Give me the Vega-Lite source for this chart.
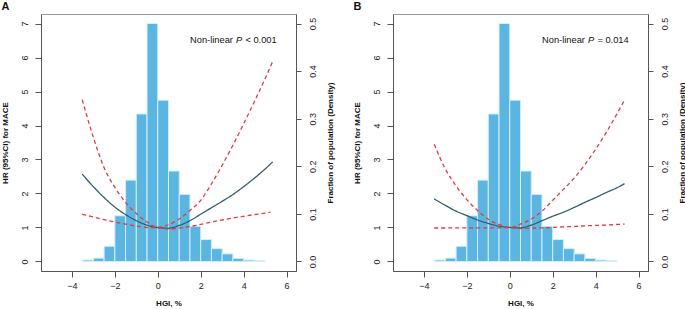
{
  "$schema": "https://vega.github.io/schema/vega-lite/v6.json",
  "padding": {"left": 0, "top": 0, "right": 0, "bottom": 0},
  "spacing": 17,
  "config": {
    "font": "Liberation Sans",
    "view": {"stroke": "#9a9a9a", "strokeWidth": 1},
    "axis": {"grid": false, "domainColor": "#555555", "tickColor": "#555555", "labelColor": "#222222", "titleColor": "#111111", "labelFontSize": 9, "titleFontSize": 8, "titleFontWeight": "bold", "tickSize": 6, "labelPadding": 4, "labelOverlap": false, "labelFont": "Liberation Sans", "titleFont": "Liberation Sans"}
  },
  "datasets": {
    "hist": [
      {"b0": -3.5, "b1": -3.0, "d": 0.003},
      {"b0": -3.0, "b1": -2.5, "d": 0.007},
      {"b0": -2.5, "b1": -2.0, "d": 0.032},
      {"b0": -2.0, "b1": -1.5, "d": 0.096},
      {"b0": -1.5, "b1": -1.0, "d": 0.171},
      {"b0": -1.0, "b1": -0.5, "d": 0.31},
      {"b0": -0.5, "b1": 0.0, "d": 0.5},
      {"b0": 0.0, "b1": 0.5, "d": 0.339},
      {"b0": 0.5, "b1": 1.0, "d": 0.19},
      {"b0": 1.0, "b1": 1.5, "d": 0.141},
      {"b0": 1.5, "b1": 2.0, "d": 0.074},
      {"b0": 2.0, "b1": 2.5, "d": 0.046},
      {"b0": 2.5, "b1": 3.0, "d": 0.027},
      {"b0": 3.0, "b1": 3.5, "d": 0.016},
      {"b0": 3.5, "b1": 4.0, "d": 0.0064},
      {"b0": 4.0, "b1": 4.5, "d": 0.003},
      {"b0": 4.5, "b1": 5.0, "d": 0.0014}
    ],
    "curveA": [
      {"x": -3.52, "v": 2.57, "s": "HR"}, {"x": -3.0, "v": 2.2, "s": "HR"}, {"x": -2.5, "v": 1.88, "s": "HR"}, {"x": -2.0, "v": 1.6, "s": "HR"},
      {"x": -1.5, "v": 1.38, "s": "HR"}, {"x": -1.0, "v": 1.2, "s": "HR"}, {"x": -0.5, "v": 1.07, "s": "HR"}, {"x": 0.0, "v": 1.0, "s": "HR"},
      {"x": 0.5, "v": 0.98, "s": "HR"}, {"x": 1.0, "v": 1.06, "s": "HR"}, {"x": 1.5, "v": 1.2, "s": "HR"}, {"x": 2.0, "v": 1.39, "s": "HR"},
      {"x": 2.5, "v": 1.58, "s": "HR"}, {"x": 3.0, "v": 1.77, "s": "HR"}, {"x": 3.5, "v": 1.97, "s": "HR"}, {"x": 4.0, "v": 2.2, "s": "HR"},
      {"x": 4.5, "v": 2.45, "s": "HR"}, {"x": 5.0, "v": 2.72, "s": "HR"}, {"x": 5.35, "v": 2.93, "s": "HR"},
      {"x": -3.52, "v": 1.39, "s": "lo"}, {"x": -3.0, "v": 1.31, "s": "lo"}, {"x": -2.5, "v": 1.23, "s": "lo"}, {"x": -2.0, "v": 1.16, "s": "lo"},
      {"x": -1.5, "v": 1.1, "s": "lo"}, {"x": -1.0, "v": 1.04, "s": "lo"}, {"x": -0.5, "v": 1.0, "s": "lo"}, {"x": 0.0, "v": 0.99, "s": "lo"},
      {"x": 0.5, "v": 0.96, "s": "lo"}, {"x": 1.0, "v": 0.98, "s": "lo"}, {"x": 1.5, "v": 1.03, "s": "lo"}, {"x": 2.0, "v": 1.09, "s": "lo"},
      {"x": 2.5, "v": 1.16, "s": "lo"}, {"x": 3.0, "v": 1.22, "s": "lo"}, {"x": 3.5, "v": 1.28, "s": "lo"}, {"x": 4.0, "v": 1.33, "s": "lo"},
      {"x": 4.5, "v": 1.38, "s": "lo"}, {"x": 5.0, "v": 1.42, "s": "lo"}, {"x": 5.25, "v": 1.45, "s": "lo"},
      {"x": -3.52, "v": 4.76, "s": "hi"}, {"x": -3.0, "v": 3.65, "s": "hi"}, {"x": -2.5, "v": 2.76, "s": "hi"}, {"x": -2.0, "v": 2.18, "s": "hi"},
      {"x": -1.5, "v": 1.74, "s": "hi"}, {"x": -1.0, "v": 1.41, "s": "hi"}, {"x": -0.5, "v": 1.16, "s": "hi"}, {"x": 0.0, "v": 1.0, "s": "hi"},
      {"x": 0.5, "v": 1.08, "s": "hi"}, {"x": 1.0, "v": 1.25, "s": "hi"}, {"x": 1.5, "v": 1.5, "s": "hi"}, {"x": 2.0, "v": 1.8, "s": "hi"},
      {"x": 2.5, "v": 2.28, "s": "hi"}, {"x": 3.0, "v": 2.83, "s": "hi"}, {"x": 3.5, "v": 3.42, "s": "hi"}, {"x": 4.0, "v": 4.05, "s": "hi"},
      {"x": 4.5, "v": 4.7, "s": "hi"}, {"x": 5.0, "v": 5.38, "s": "hi"}, {"x": 5.33, "v": 5.85, "s": "hi"}
    ],
    "curveB": [
      {"x": -3.52, "v": 1.84, "s": "HR"}, {"x": -3.0, "v": 1.65, "s": "HR"}, {"x": -2.5, "v": 1.48, "s": "HR"}, {"x": -2.0, "v": 1.35, "s": "HR"},
      {"x": -1.5, "v": 1.22, "s": "HR"}, {"x": -1.0, "v": 1.12, "s": "HR"}, {"x": -0.5, "v": 1.04, "s": "HR"}, {"x": 0.0, "v": 1.0, "s": "HR"},
      {"x": 0.5, "v": 0.99, "s": "HR"}, {"x": 1.0, "v": 1.07, "s": "HR"}, {"x": 1.5, "v": 1.2, "s": "HR"}, {"x": 2.0, "v": 1.33, "s": "HR"},
      {"x": 2.5, "v": 1.45, "s": "HR"}, {"x": 3.0, "v": 1.59, "s": "HR"}, {"x": 3.5, "v": 1.74, "s": "HR"}, {"x": 4.0, "v": 1.88, "s": "HR"},
      {"x": 4.5, "v": 2.03, "s": "HR"}, {"x": 5.0, "v": 2.17, "s": "HR"}, {"x": 5.35, "v": 2.29, "s": "HR"},
      {"x": -3.52, "v": 0.985, "s": "lo"}, {"x": -3.0, "v": 0.985, "s": "lo"}, {"x": -2.5, "v": 0.99, "s": "lo"}, {"x": -2.0, "v": 0.99, "s": "lo"},
      {"x": -1.5, "v": 0.99, "s": "lo"}, {"x": -1.0, "v": 0.99, "s": "lo"}, {"x": -0.5, "v": 0.99, "s": "lo"}, {"x": 0.0, "v": 1.0, "s": "lo"},
      {"x": 0.5, "v": 0.97, "s": "lo"}, {"x": 1.0, "v": 0.98, "s": "lo"}, {"x": 1.5, "v": 0.99, "s": "lo"}, {"x": 2.0, "v": 1.0, "s": "lo"},
      {"x": 2.5, "v": 1.02, "s": "lo"}, {"x": 3.0, "v": 1.03, "s": "lo"}, {"x": 3.5, "v": 1.05, "s": "lo"}, {"x": 4.0, "v": 1.06, "s": "lo"},
      {"x": 4.5, "v": 1.07, "s": "lo"}, {"x": 5.0, "v": 1.09, "s": "lo"}, {"x": 5.35, "v": 1.1, "s": "lo"},
      {"x": -3.52, "v": 3.45, "s": "hi"}, {"x": -3.0, "v": 2.72, "s": "hi"}, {"x": -2.5, "v": 2.22, "s": "hi"}, {"x": -2.0, "v": 1.82, "s": "hi"},
      {"x": -1.5, "v": 1.5, "s": "hi"}, {"x": -1.0, "v": 1.24, "s": "hi"}, {"x": -0.5, "v": 1.09, "s": "hi"}, {"x": 0.0, "v": 1.0, "s": "hi"},
      {"x": 0.5, "v": 1.1, "s": "hi"}, {"x": 1.0, "v": 1.25, "s": "hi"}, {"x": 1.5, "v": 1.48, "s": "hi"}, {"x": 2.0, "v": 1.8, "s": "hi"},
      {"x": 2.5, "v": 2.12, "s": "hi"}, {"x": 3.0, "v": 2.45, "s": "hi"}, {"x": 3.5, "v": 2.85, "s": "hi"}, {"x": 4.0, "v": 3.3, "s": "hi"},
      {"x": 4.5, "v": 3.8, "s": "hi"}, {"x": 5.0, "v": 4.35, "s": "hi"}, {"x": 5.35, "v": 4.75, "s": "hi"}
    ]
  },
  "hconcat": [
    {
      "width": 255, "height": 257,
      "title": {"text": "A", "anchor": "start", "frame": "bounds", "fontSize": 11, "fontWeight": "bold", "offset": 2, "color": "#111111"},
      "resolve": {"scale": {"y": "independent"}},
      "layer": [
        {
          "data": {"name": "hist"},
          "mark": {"type": "bar", "color": "#5BB5E1", "stroke": "#D4EDF8", "strokeWidth": 1},
          "encoding": {
            "x": {"field": "b0", "type": "quantitative", "scale": {"domain": [-5.44, 6.44], "nice": false, "zero": false}, "axis": {"values": [-4, -2, 0, 2, 4, 6], "title": "HGI, %", "titlePadding": 9}},
            "x2": {"field": "b1"},
            "y": {"field": "d", "type": "quantitative", "scale": {"domain": [-0.02, 0.52], "nice": false, "zero": false}, "axis": {"orient": "right", "values": [0, 0.1, 0.2, 0.3, 0.4, 0.5], "format": ".1f", "labelAngle": 270, "labelOverlap": false, "titleAngle": 270, "titleBaseline": "top", "title": "Fraction of population (Density)", "tickSize": 5, "labelPadding": 7, "titlePadding": 9}},
            "y2": {"datum": 0}
          }
        },
        {
          "data": {"name": "curveA"},
          "mark": {"type": "line", "strokeWidth": 1.3, "interpolate": "monotone"},
          "encoding": {
            "x": {"field": "x", "type": "quantitative"},
            "y": {"field": "v", "type": "quantitative", "scale": {"domain": [-0.28, 7.28], "nice": false, "zero": false}, "axis": {"orient": "left", "values": [0, 1, 2, 3, 4, 5, 6, 7], "labelOverlap": false, "labelAngle": 270, "labelPadding": 5.5, "title": "HR (95%CI) for MACE", "titlePadding": 11}},
            "color": {"field": "s", "type": "nominal", "scale": {"domain": ["HR", "lo", "hi"], "range": ["#2F5E69", "#E23A3F", "#E23A3F"]}, "legend": null},
            "strokeDash": {"field": "s", "type": "nominal", "scale": {"domain": ["HR", "lo", "hi"], "range": [[1, 0], [4, 3], [4, 3]]}, "legend": null}
          }
        },
        {
          "data": {"values": [{"x": 3.5, "y": 6.52, "t": "Non-linear"}]},
          "mark": {"type": "text", "align": "right", "baseline": "middle", "fontSize": 9.3, "color": "#111111"},
          "encoding": {"x": {"field": "x", "type": "quantitative"}, "y": {"field": "y", "type": "quantitative", "scale": {"domain": [-0.28, 7.28], "nice": false, "zero": false}, "axis": null}, "text": {"field": "t"}}
        },
        {
          "data": {"values": [{"x": 3.5, "y": 6.52, "t": "P"}]},
          "mark": {"type": "text", "align": "left", "baseline": "middle", "fontSize": 9.3, "fontStyle": "italic", "dx": 3, "color": "#111111"},
          "encoding": {"x": {"field": "x", "type": "quantitative"}, "y": {"field": "y", "type": "quantitative", "scale": {"domain": [-0.28, 7.28], "nice": false, "zero": false}, "axis": null}, "text": {"field": "t"}}
        },
        {
          "data": {"values": [{"x": 3.5, "y": 6.52, "t": "< 0.001"}]},
          "mark": {"type": "text", "align": "left", "baseline": "middle", "fontSize": 9.3, "dx": 12.5, "color": "#111111"},
          "encoding": {"x": {"field": "x", "type": "quantitative"}, "y": {"field": "y", "type": "quantitative", "scale": {"domain": [-0.28, 7.28], "nice": false, "zero": false}, "axis": null}, "text": {"field": "t"}}
        }
      ]
    },
    {
      "width": 255, "height": 257,
      "title": {"text": "B", "anchor": "start", "frame": "bounds", "fontSize": 11, "fontWeight": "bold", "offset": 2, "color": "#111111"},
      "resolve": {"scale": {"y": "independent"}},
      "layer": [
        {
          "data": {"name": "hist"},
          "mark": {"type": "bar", "color": "#5BB5E1", "stroke": "#D4EDF8", "strokeWidth": 1},
          "encoding": {
            "x": {"field": "b0", "type": "quantitative", "scale": {"domain": [-5.44, 6.44], "nice": false, "zero": false}, "axis": {"values": [-4, -2, 0, 2, 4, 6], "title": "HGI, %", "titlePadding": 9}},
            "x2": {"field": "b1"},
            "y": {"field": "d", "type": "quantitative", "scale": {"domain": [-0.02, 0.52], "nice": false, "zero": false}, "axis": {"orient": "right", "values": [0, 0.1, 0.2, 0.3, 0.4, 0.5], "format": ".1f", "labelAngle": 270, "labelOverlap": false, "titleAngle": 270, "titleBaseline": "top", "title": "Fraction of population (Density)", "tickSize": 5, "labelPadding": 7, "titlePadding": 9}},
            "y2": {"datum": 0}
          }
        },
        {
          "data": {"name": "curveB"},
          "mark": {"type": "line", "strokeWidth": 1.3, "interpolate": "monotone"},
          "encoding": {
            "x": {"field": "x", "type": "quantitative"},
            "y": {"field": "v", "type": "quantitative", "scale": {"domain": [-0.28, 7.28], "nice": false, "zero": false}, "axis": {"orient": "left", "values": [0, 1, 2, 3, 4, 5, 6, 7], "labelOverlap": false, "labelAngle": 270, "labelPadding": 5.5, "title": "HR (95%CI) for MACE", "titlePadding": 11}},
            "color": {"field": "s", "type": "nominal", "scale": {"domain": ["HR", "lo", "hi"], "range": ["#2F5E69", "#E23A3F", "#E23A3F"]}, "legend": null},
            "strokeDash": {"field": "s", "type": "nominal", "scale": {"domain": ["HR", "lo", "hi"], "range": [[1, 0], [4, 3], [4, 3]]}, "legend": null}
          }
        },
        {
          "data": {"values": [{"x": 3.5, "y": 6.52, "t": "Non-linear"}]},
          "mark": {"type": "text", "align": "right", "baseline": "middle", "fontSize": 9.3, "color": "#111111"},
          "encoding": {"x": {"field": "x", "type": "quantitative"}, "y": {"field": "y", "type": "quantitative", "scale": {"domain": [-0.28, 7.28], "nice": false, "zero": false}, "axis": null}, "text": {"field": "t"}}
        },
        {
          "data": {"values": [{"x": 3.5, "y": 6.52, "t": "P"}]},
          "mark": {"type": "text", "align": "left", "baseline": "middle", "fontSize": 9.3, "fontStyle": "italic", "dx": 3, "color": "#111111"},
          "encoding": {"x": {"field": "x", "type": "quantitative"}, "y": {"field": "y", "type": "quantitative", "scale": {"domain": [-0.28, 7.28], "nice": false, "zero": false}, "axis": null}, "text": {"field": "t"}}
        },
        {
          "data": {"values": [{"x": 3.5, "y": 6.52, "t": "= 0.014"}]},
          "mark": {"type": "text", "align": "left", "baseline": "middle", "fontSize": 9.3, "dx": 12.5, "color": "#111111"},
          "encoding": {"x": {"field": "x", "type": "quantitative"}, "y": {"field": "y", "type": "quantitative", "scale": {"domain": [-0.28, 7.28], "nice": false, "zero": false}, "axis": null}, "text": {"field": "t"}}
        }
      ]
    }
  ]
}
